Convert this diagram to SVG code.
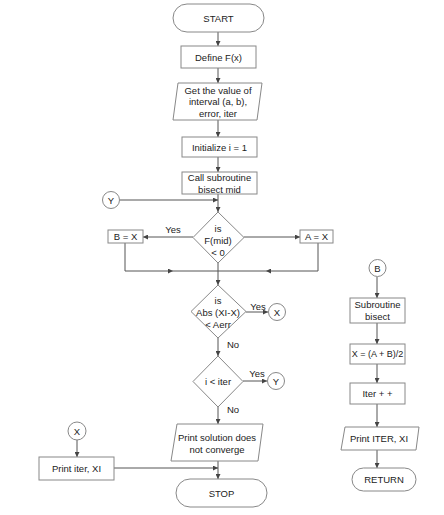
<svg xmlns="http://www.w3.org/2000/svg" width="444" height="515" viewBox="0 0 444 515">
<defs>
<marker id="ah" viewBox="0 0 10 10" refX="10" refY="5" markerWidth="5" markerHeight="5" orient="auto" markerUnits="userSpaceOnUse">
<path d="M0,0 L10,5 L0,10 z" fill="#444"/>
</marker>
</defs>
<style>
.s{fill:#fff;stroke:#888;stroke-width:1}
.c{fill:none;stroke:#555;stroke-width:1}
.a{fill:none;stroke:#555;stroke-width:1;marker-end:url(#ah)}
text{font-family:"Liberation Sans",Arial,sans-serif;font-size:9.5px;fill:#222;text-anchor:middle;dominant-baseline:central}
.sm{font-size:9px}
</style>
<rect width="444" height="515" fill="#fff"/>
<g id="connectors">
<line class="a" x1="218" y1="32" x2="218" y2="46"/>
<line class="a" x1="218" y1="68" x2="218" y2="83"/>
<line class="a" x1="218" y1="120" x2="218" y2="137"/>
<line class="a" x1="218" y1="157" x2="218" y2="172"/>
<line class="a" x1="218" y1="194" x2="218" y2="212"/>
<line class="a" x1="120" y1="200" x2="218" y2="200"/>
<line class="a" x1="193" y1="237" x2="143" y2="237"/>
<line class="a" x1="244" y1="237" x2="300" y2="237"/>
<path class="a" d="M125,243 V271 H173"/>
<line class="c" x1="173" y1="271" x2="218" y2="271"/>
<path class="a" d="M318,243 V271 H266"/>
<line class="c" x1="266" y1="271" x2="218" y2="271"/>
<line class="a" x1="218" y1="263" x2="218" y2="285"/>
<line class="a" x1="246" y1="312" x2="268" y2="312"/>
<line class="a" x1="218" y1="338" x2="218" y2="356"/>
<line class="a" x1="243" y1="381" x2="267" y2="381"/>
<line class="a" x1="218" y1="407" x2="218" y2="424"/>
<line class="a" x1="218" y1="461" x2="218" y2="479"/>
<line class="a" x1="77" y1="440" x2="77" y2="457"/>
<line class="a" x1="114" y1="468" x2="218" y2="468"/>
<line class="a" x1="377" y1="277" x2="377" y2="298"/>
<line class="a" x1="377" y1="323" x2="377" y2="344"/>
<line class="a" x1="377" y1="364" x2="377" y2="383"/>
<line class="a" x1="377" y1="404" x2="377" y2="427"/>
<line class="a" x1="377" y1="450" x2="377" y2="468"/>
</g>
<g id="labels">
<text x="173" y="229">Yes</text>
<text x="258" y="306">Yes</text>
<text x="257" y="373">Yes</text>
<text x="233" y="344">No</text>
<text x="233" y="409">No</text>
</g>
<g id="start"><rect class="s" x="173" y="4" width="91" height="28" rx="14"/><text x="218.5" y="18">START</text></g>
<g id="define"><rect class="s" x="181" y="46" width="75" height="22"/><text x="218.5" y="57">Define F(x)</text></g>
<g id="input"><polygon class="s" points="178,83 262,83 257,120 173,120"/><text x="218" y="90">Get the value of</text><text x="218" y="101.5">interval (a, b),</text><text x="218" y="113">error, iter</text></g>
<g id="init"><rect class="s" x="182" y="137" width="75" height="20"/><text x="219.5" y="147">Initialize i = 1</text></g>
<g id="call"><rect class="s" x="182" y="172" width="75" height="22"/><text x="219.5" y="177.5">Call subroutine</text><text x="219.5" y="189">bisect mid</text></g>
<g id="connY1"><circle class="s" cx="111" cy="200" r="8.5"/><text x="111" y="200">Y</text></g>
<g id="dec1"><polygon class="s" points="218,212 244,237.5 218,263 193,237.5"/><text x="218" y="228">is</text><text x="218" y="240">F(mid)</text><text x="218" y="252">&lt; 0</text></g>
<g id="bx"><rect class="s" x="108" y="230" width="35" height="13"/><text x="125.5" y="236.5">B = X</text></g>
<g id="ax"><rect class="s" x="300" y="230" width="33" height="13"/><text x="316.5" y="236.5">A = X</text></g>
<g id="dec2"><polygon class="s" points="218,285 246,311.5 218,338 191,311.5"/><text x="218" y="300">is</text><text x="218" y="312.5">Abs (XI-X)</text><text x="218" y="324.5">&lt; Aerr</text></g>
<g id="connX1"><circle class="s" cx="277" cy="312" r="8.5"/><text x="277" y="312">X</text></g>
<g id="dec3"><polygon class="s" points="218,356 243,381.5 218,407 193,381.5"/><text x="218" y="381.5">i &lt; iter</text></g>
<g id="connY2"><circle class="s" cx="276" cy="381" r="8.5"/><text x="276" y="381">Y</text></g>
<g id="noconv"><polygon class="s" points="177,424 263,424 258,461 171,461"/><text x="217" y="437">Print solution does</text><text x="217" y="449">not converge</text></g>
<g id="stop"><rect class="s" x="176" y="479" width="91" height="28" rx="14"/><text x="221.5" y="493">STOP</text></g>
<g id="connX2"><circle class="s" cx="77" cy="431" r="9"/><text x="77" y="431">X</text></g>
<g id="printiter"><rect class="s" x="39" y="457" width="75" height="23"/><text x="76.5" y="468.5">Print iter, XI</text></g>
<g id="connB"><circle class="s" cx="377.5" cy="268" r="8.5"/><text x="377.5" y="268">B</text></g>
<g id="sub"><rect class="s" x="350" y="298" width="55" height="25"/><text x="377.5" y="304.5">Subroutine</text><text x="377.5" y="316">bisect</text></g>
<g id="xcalc"><rect class="s" x="350" y="344" width="55" height="20"/><text class="sm" x="377.5" y="354">X = (A + B)/2</text></g>
<g id="iterpp"><rect class="s" x="350" y="383" width="55" height="21"/><text x="377.5" y="393.5">Iter + +</text></g>
<g id="printITER"><polygon class="s" points="345,427 419,427 416,450 341,450"/><text x="379" y="438.5">Print ITER, XI</text></g>
<g id="return"><rect class="s" x="352" y="468" width="64" height="23" rx="11.5"/><text x="384" y="479.5">RETURN</text></g>
</svg>
